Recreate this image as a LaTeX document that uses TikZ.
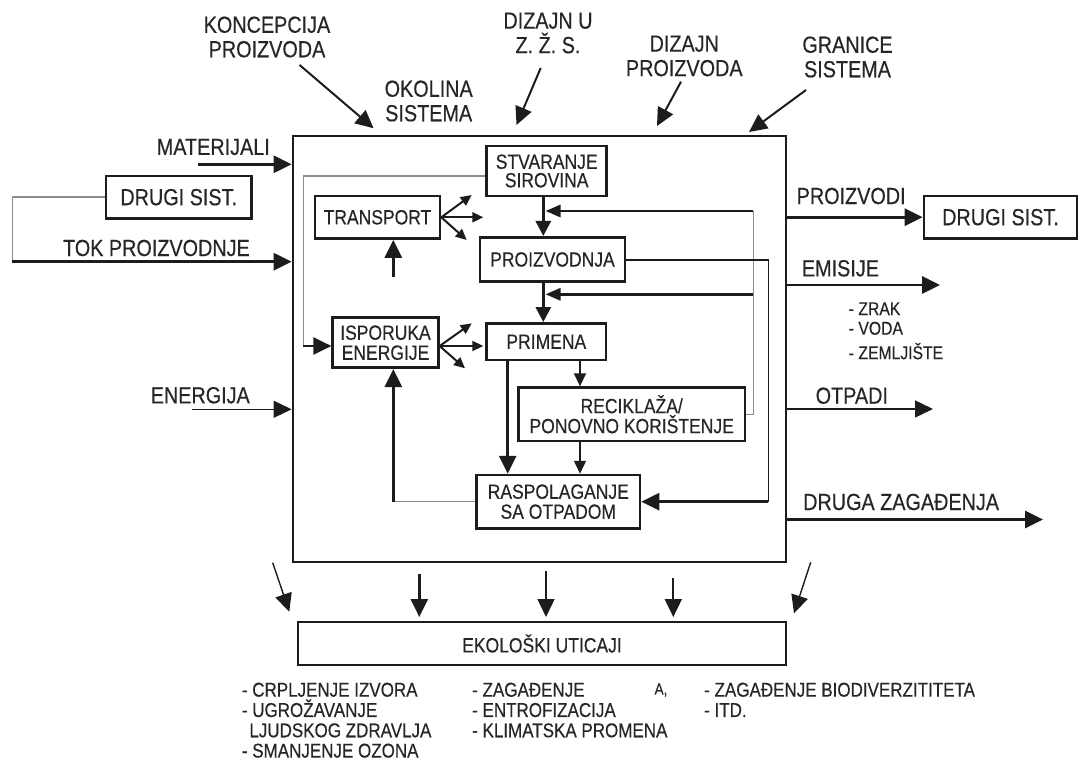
\documentclass[tikz,border=0pt]{standalone}
\usepackage{fontspec}
\setmainfont{Liberation Sans}[FakeStretch=0.85,FakeBold=0.4]
\usetikzlibrary{arrows.meta}
\definecolor{ink}{HTML}{1C1C1C}
\definecolor{txt}{HTML}{262626}
\definecolor{gline}{HTML}{8C8C8C}
\begin{document}
\begin{tikzpicture}[x=1pt,y=-1pt,
  big/.style={font=\fontsize{23.3}{24.5}\selectfont, text=txt, inner sep=0pt, align=center},
  lst/.style={font=\fontsize{20}{20.3}\selectfont, text=txt, inner sep=0pt, align=left},
  box/.style={draw=ink, line width=2.6pt, inner sep=0pt, font=\fontsize{20.6}{20}\selectfont, text=txt, align=center},
  thk/.style={draw=ink, line width=2.8pt},
  mdl/.style={draw=ink, line width=2pt},
  thn/.style={draw=ink, line width=1.4pt},
  gry/.style={draw=gline, line width=1.5pt},
  tipL/.style={-{Triangle[length=18pt,width=17pt]}},
  tipM/.style={-{Triangle[length=15pt,width=15pt]}},
  tipB/.style={-{Triangle[length=15pt,width=12pt]}},
  tipS/.style={-{Triangle[length=13pt,width=12pt]}},
  tipF/.style={-{Triangle[length=11pt,width=10pt]}}
]
\useasboundingbox (0,0) rectangle (1080,762);

% ---------- boxes ----------
\node[draw=ink, line width=2.8pt, minimum width=493pt, minimum height=426pt, inner sep=0pt] (sys) at (539.5,349) {};
\node[box, minimum width=120pt, minimum height=50pt, font=\fontsize{20.6}{18.5}\selectfont] (stv) at (546.7,171) {STVARANJE\\SIROVINA};
\node[box, minimum width=125pt, minimum height=42.5pt] (trn) at (377.5,217.3) {TRANSPORT};
\node[box, minimum width=145pt, minimum height=44.4pt] (prz) at (552.5,259.5) {PROIZVODNJA};
\node[box, minimum width=119.3pt, minimum height=36.7pt] (prm) at (546.3,341.7) {PRIMENA};
\node[box, minimum width=105.6pt, minimum height=50pt] (isp) at (385.5,342.7) {ISPORUKA\\ENERGIJE};
\node[box, minimum width=226.7pt, minimum height=53.3pt] (rec) at (631.7,414.3) {RECIKLAŽA/\\PONOVNO KORIŠTENJE};
\node[box, minimum width=163.3pt, minimum height=53.3pt] (rsp) at (558.3,501.7) {RASPOLAGANJE\\SA OTPADOM};
\node[box, minimum width=145.5pt, minimum height=42.3pt, font=\fontsize{23.3}{24}\selectfont] (dsl) at (178.7,197.2) {DRUGI SIST.};
\node[box, minimum width=153pt, minimum height=42.3pt, font=\fontsize{23.3}{24}\selectfont] (dsr) at (1000.5,217.2) {DRUGI SIST.};
\node[box, minimum width=488pt, minimum height=43pt] (eko) at (542,643.5) {EKOLOŠKI UTICAJI};

% ---------- labels ----------
\node[big] (konc) at (267,37) {KONCEPCIJA\\PROIZVODA};
\node[big] (okol) at (428.7,101) {OKOLINA\\SISTEMA};
\node[big] (dzu) at (548,33) {DIZAJN U\\Z. Ž. S.};
\node[big] (dzp) at (684.3,56) {DIZAJN\\PROIZVODA};
\node[big] (gran) at (847.5,57) {GRANICE\\SISTEMA};
\node[big, anchor=east] (matl) at (270,147) {MATERIJALI};
\node[big, anchor=east] (tokl) at (250,248) {TOK PROIZVODNJE};
\node[big, anchor=east] (enl) at (250,395.3) {ENERGIJA};
\node[big, anchor=west] (prl) at (796.5,196) {PROIZVODI};
\node[big, anchor=west] (eml) at (801.7,268.3) {EMISIJE};
\node[big, anchor=west] (otl) at (815.5,395.7) {OTPADI};
\node[big, anchor=west] (dzl) at (803,502) {DRUGA ZAGAĐENJA};
\node[lst, font=\fontsize{18.5}{19}\selectfont, anchor=west] (zr) at (848.6,308.7) {- ZRAK};
\node[lst, font=\fontsize{18.5}{19}\selectfont, anchor=west] (vd) at (848.6,328.3) {- VODA};
\node[lst, font=\fontsize{18.5}{19}\selectfont, anchor=west] (zm) at (848.6,351.2) {- ZEMLJIŠTE};
\node[lst, anchor=north west] (c1) at (241.7,682.5) {- CRPLJENJE IZVORA\\- UGROŽAVANJE\\\hspace*{7.5pt}LJUDSKOG ZDRAVLJA\\- SMANJENJE OZONA};
\node[lst, anchor=north west] (c2) at (472,682.5) {- ZAGAĐENJE\\- ENTROFIZACIJA\\- KLIMATSKA PROMENA};
\node[lst, anchor=north west] (c3) at (704,682.5) {- ZAGAĐENJE BIODIVERZITITETA\\- ITD.};
\node[text=txt, inner sep=0pt, font=\fontsize{16}{16}\selectfont] (stray) at (661,690) {A,};

% ---------- top arrows ----------
\coordinate (k1) at (299.6,65);   \coordinate (k2) at (373.6,128.3);
\coordinate (u1) at (540.7,68);   \coordinate (u2) at (516.5,125);
\coordinate (p1) at (681,81.7);   \coordinate (p2) at (657,126);
\coordinate (g1) at (806,90);     \coordinate (g2) at (749,132);
\draw[mdl, tipL] (k1) -- (k2);
\draw[mdl, tipL] (u1) -- (u2);
\draw[mdl, tipL] (p1) -- (p2);
\draw[mdl, tipL] (g1) -- (g2);

% ---------- left inputs ----------
\coordinate (mat) at (198,164.3);
\draw[thk, tipL] (mat) -- (mat -| sys.west);
\coordinate (tokc) at (12.4,261.7);
\draw[gry] (dsl.west) -| (tokc);
\draw[thk, tipL] (tokc) -- (tokc -| sys.west);
\coordinate (en) at (192,409.3);
\draw[thn, tipL] (en) -- (en -| sys.west);

% ---------- right outputs ----------
\draw[thk, tipL] (sys.east |- dsr.west) -- (dsr.west);
\coordinate (em) at (940,285);
\draw[thk, tipL] (sys.east |- em) -- (em);
\coordinate (ot) at (933,409);
\draw[thn, tipL] (sys.east |- ot) -- (ot);
\coordinate (dz) at (1043,519.5);
\draw[thk, tipL] (sys.east |- dz) -- (dz);

% ---------- inner flow ----------
\coordinate (vx) at (543.3,0);
\draw[thk, tipM] (stv.south -| vx) -- (prz.north -| vx);
\draw[thk, tipM] (prz.south -| vx) -- (prm.north -| vx);

% feedback from recycling
\coordinate (fb1) at (753.3,211);
\coordinate (fb2) at (753.3,294.3);
\coordinate (fbt) at (545.5,0);
\draw[gry] (rec.east) -| (fb1);
\draw[thk, tipB] (fb1) -- (fb1 -| fbt);
\draw[thk, tipB] (fb2) -- (fb2 -| fbt);

% production waste to disposal
\coordinate (pw) at (768.3,260);
\draw[thn] (prz.east |- pw) -- (pw) -- (pw |- rsp.east);
\draw[thk, tipL] (pw |- rsp.east) -- (rsp.east);

% use to disposal / recycling
\coordinate (px1) at (507.7,0);
\coordinate (px2) at (580,0);
\draw[thk, tipL] (prm.south -| px1) -- (rsp.north -| px1);
\draw[thn, tipS] (prm.south -| px2) -- (rec.north -| px2);
\draw[thn, tipS] (rec.south -| px2) -- (rsp.north -| px2);

% disposal to energy
\coordinate (ru) at (393.3,501.7);
\draw[gry] (rsp.west) -- (rsp.west -| ru);
\draw[thk, tipL] (rsp.west -| ru) -- (isp.south -| ru);

% raw materials to energy supply
\coordinate (sg) at (303.3,176);
\coordinate (ia) at (303.3,346);
\draw[gry] (stv.west |- sg) -- (sg) -- (ia);
\draw[thk, tipL] (ia) -- (isp.west |- ia);

% transport
\coordinate (tu) at (393.3,276.7);
\draw[thk, tipL] (tu) -- (trn.south -| tu);
\coordinate (tf1) at (471.7,195);
\coordinate (tf2) at (483.3,217.3);
\coordinate (tf3) at (466.7,240);
\draw[mdl, tipF] (trn.east) -- (tf1);
\draw[mdl, tipF] (trn.east) -- (tf2);
\draw[mdl, tipF] (trn.east) -- (tf3);

% energy supply fans
\coordinate (if1) at (471.7,323.3);
\coordinate (if2) at (483.3,346);
\coordinate (if3) at (465,368.3);
\draw[mdl, tipF] (isp.east |- ia) -- (if1);
\draw[mdl, tipF] (isp.east |- ia) -- (if2);
\draw[mdl, tipF] (isp.east |- ia) -- (if3);

% ---------- impacts ----------
\coordinate (b1s) at (272.7,562.7); \coordinate (b1e) at (289.3,611.7);
\coordinate (b2s) at (419.3,574.3); \coordinate (b2e) at (419.3,617);
\coordinate (b3s) at (546,571);     \coordinate (b3e) at (546,617);
\coordinate (b4s) at (673.3,577.7); \coordinate (b4e) at (673.3,617);
\coordinate (b5s) at (810.7,562.3); \coordinate (b5e) at (794,613.3);
\draw[thn, tipL] (b1s) -- (b1e);
\draw[thk, tipL, line width=2.4pt] (b2s) -- (b2e);
\draw[thn, tipL] (b3s) -- (b3e);
\draw[mdl, tipL] (b4s) -- (b4e);
\draw[thn, tipL] (b5s) -- (b5e);
\end{tikzpicture}
\end{document}
